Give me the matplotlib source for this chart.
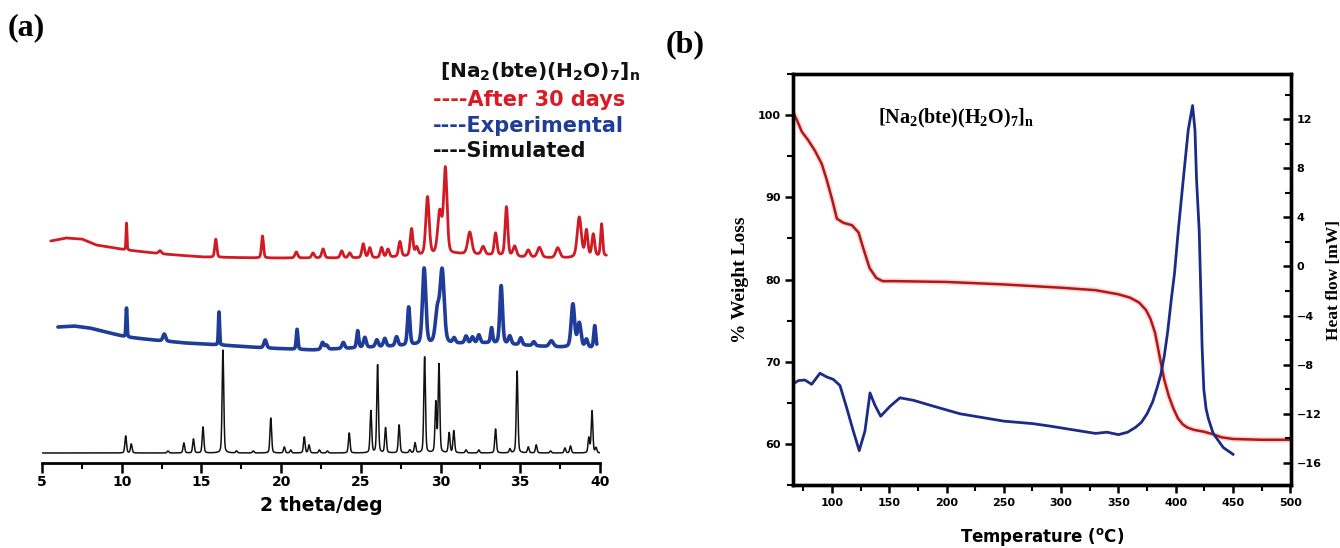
import numpy as np
import matplotlib
matplotlib.use("Agg")
import matplotlib.pyplot as plt
from matplotlib.ticker import MultipleLocator

plt.rcParams['font.family'] = ['DejaVu Sans']
plt.rcParams['mathtext.fontset'] = 'custom'
plt.rcParams['mathtext.rm'] = 'DejaVu Sans:bold'
plt.rcParams['mathtext.bf'] = 'DejaVu Sans:bold'
plt.rcParams['mathtext.sf'] = 'Liberation Serif:bold'

# ---------------- Panel (a): PXRD data ----------------
# Simulated pattern peaks (2theta, height, FWHM)
sim_pos = [10.25, 10.6, 12.9, 13.9, 14.5, 15.1, 16.35, 17.2, 18.25, 19.35, 20.2, 20.6,
           21.45, 21.75, 22.4, 22.9, 24.27, 25.63, 26.05, 26.55, 27.4, 28.07, 28.4, 29.0,
           29.7, 29.9, 30.54, 30.83, 31.6, 32.4, 33.45, 34.35, 34.8, 35.5, 36.0, 36.9,
           37.8, 38.15, 39.3, 39.5, 39.75]
sim_int = [17, 9, 2, 10, 14, 26, 103, 2, 2, 35, 6, 3,
           16, 8, 3, 2, 20, 42, 88, 25, 28, 3, 10, 96,
           50, 88, 20, 22, 3, 3, 24, 4, 82, 6, 8, 2,
           5, 7, 15, 42, 5]
sim_fwhm = 0.12
sim_range = (5.0, 40.0)

# Experimental pattern
exp_pos = [10.3, 12.67, 16.1, 19.0, 21.0, 22.6, 22.85, 23.9, 24.8, 25.25, 26.0, 26.5,
           27.24, 28.0, 28.97, 29.8, 30.1, 30.85, 31.6, 32.0, 32.4, 33.2, 33.8, 34.34,
           35.03, 35.85, 36.95, 38.3, 38.7, 39.15, 39.67]
exp_int = [29, 7, 33, 8, 20, 7, 4, 6, 17, 10, 7, 8,
           9, 38, 76, 32, 72, 5, 7, 6, 8, 15, 58, 8,
           7, 4, 6, 43, 24, 8, 22]
exp_fwhm = [0.08, 0.2, 0.08, 0.2, 0.12, 0.2, 0.2, 0.2, 0.15, 0.2, 0.2, 0.2,
            0.2, 0.18, 0.25, 0.3, 0.3, 0.2, 0.2, 0.2, 0.2, 0.15, 0.2, 0.2,
            0.2, 0.2, 0.3, 0.25, 0.25, 0.2, 0.15]
exp_base_x = [6.0, 7.0, 8.0, 9.0, 10.3, 12.0, 14.0, 16.2, 19.0, 22.0, 26.0, 30.0, 33.0, 35.0, 37.0, 39.8]
exp_base_y = [23, 24, 22, 18, 13, 10, 7, 5, 2, 0, 3, 6, 7, 5, 3, 2]
exp_range = (6.0, 39.8)

# After 30 days pattern
aged_pos = [10.3, 12.4, 15.9, 18.83, 20.95, 22.0, 22.63, 23.8, 24.3, 25.15, 25.56, 26.3,
            26.7, 27.45, 28.18, 28.5, 29.18, 29.95, 30.3, 31.83, 32.67, 33.45, 34.13, 34.65,
            35.5, 36.2, 37.35, 38.7, 39.15, 39.58, 40.1]
aged_int = [27, 3, 18, 22, 6, 5, 9, 7, 5, 14, 10, 10,
            8, 15, 27, 8, 58, 42, 85, 22, 8, 22, 49, 10,
            7, 10, 10, 40, 26, 22, 32]
aged_fwhm = [0.07, 0.2, 0.15, 0.15, 0.2, 0.2, 0.2, 0.2, 0.2, 0.2, 0.2, 0.2,
             0.2, 0.2, 0.2, 0.2, 0.25, 0.3, 0.25, 0.3, 0.25, 0.2, 0.2, 0.25,
             0.25, 0.3, 0.3, 0.3, 0.2, 0.2, 0.15]
aged_base_x = [5.55, 6.5, 7.5, 8.4, 10.3, 12.6, 15.1, 18.8, 23.0, 26.0, 31.0, 33.0, 35.0, 37.0, 38.0, 40.4]
aged_base_y = [17, 20, 19, 13, 8, 4, 1, 0, 0, 0, 4, 3, 1, 0, 0, 2]
aged_range = (5.55, 40.4)

xrd_ticks = [5, 10, 15, 20, 25, 30, 35, 40]

# ---------------- Panel (b): TGA / DSC data ----------------
tga_T = [67, 70, 73.6, 79, 85, 91, 95.5, 100.4, 104.3, 109.9, 117.5, 123.3, 127.1, 132.8,
         138.6, 144.2, 155, 200, 250, 300, 330, 350, 360, 368, 374, 378, 382, 386, 390,
         394, 398, 402, 406, 410, 416, 424, 432, 440, 450, 475, 500]
tga_w = [100.1, 99.2, 98.0, 97.0, 95.7, 94.1, 92.1, 89.6, 87.4, 86.9, 86.6, 85.7, 83.9, 81.4,
         80.2, 79.8, 79.8, 79.7, 79.4, 79.0, 78.7, 78.2, 77.8, 77.2, 76.3, 75.2, 73.5, 70.6, 67.8,
         65.8, 64.3, 63.1, 62.4, 62.0, 61.7, 61.5, 61.2, 60.8, 60.6, 60.5, 60.5]

dsc_T = [65.7, 70.6, 76.4, 82.3, 89.5, 95.4, 101.2, 107, 112.8, 118.6, 123.8, 128.8, 133.2,
         137.5, 142.5, 150.6, 159.3, 171, 185.5, 211.7, 250, 275, 290, 310, 330, 340, 350,
         358, 365, 370, 375, 380, 384, 387, 390, 393, 396, 399, 402.2, 406.5, 410.9, 414.7,
         416.8, 418.2, 420.5, 422, 423, 424.5, 426.5, 428.5, 432.7, 441.5, 450]
dsc_hf = [-9.6, -9.3, -9.25, -9.6, -8.7, -9.0, -9.2, -9.7, -11.5, -13.4, -15.0, -13.4, -10.3,
          -11.3, -12.2, -11.4, -10.7, -10.9, -11.3, -12.0, -12.6, -12.8, -13.0, -13.3, -13.6, -13.5, -13.7,
          -13.5, -13.1, -12.7, -12.0, -11.0, -9.8, -8.8, -7.3, -5.3, -2.8, -0.5, 2.9, 7.0, 11.1, 13.1,
          11.1, 7.0, 2.9, -2.5, -6.5, -10.0, -11.6, -12.4, -13.6, -14.75, -15.3]

tg_ticks = [60, 70, 80, 90, 100]
hf_ticks = [-16, -12, -8, -4, 0, 4, 8, 12]
T_ticks = [100, 150, 200, 250, 300, 350, 400, 450, 500]


def pattern(x, pos, ints, fwhm):
    y = np.zeros_like(x)
    fw = np.broadcast_to(np.asarray(fwhm, dtype=float), (len(pos),))
    for p, h, w in zip(pos, ints, fw):
        u = (x - p) / w
        g = np.exp(-4 * np.log(2) * u ** 2)
        lo = 1.0 / (1.0 + 4 * u ** 2)
        y += h * (0.3 * lo + 0.7 * g)
    return y


W, H = 1340, 548
fig = plt.figure(figsize=(W / 100, H / 100), dpi=100)


def fx(px):
    return px / W


def fy(py):
    return 1 - py / H


SERIF = 'Liberation Serif'

# ---------- panel (a) ----------
axa = fig.add_axes([fx(42), fy(463), fx(600) - fx(42), fy(163) - fy(463)])
off_sim, off_exp, off_aged = 10, 113, 205

x = np.linspace(*sim_range, 6000)
axa.plot(x, off_sim + pattern(x, sim_pos, sim_int, sim_fwhm), color='#111111', lw=1.1)

x = np.linspace(*exp_range, 6000)
yb = np.interp(x, exp_base_x, exp_base_y)
axa.plot(x, off_exp + yb + pattern(x, exp_pos, exp_int, exp_fwhm), color='#1f3c98', lw=2.6,
         solid_capstyle='round')

x = np.linspace(*aged_range, 6000)
yb = np.interp(x, aged_base_x, aged_base_y)
axa.plot(x, off_aged + yb + pattern(x, aged_pos, aged_int, aged_fwhm), color='#d01a24', lw=2.0,
         clip_on=False, solid_capstyle='round')

axa.set_xlim(5, 40)
axa.set_ylim(0, 300)
for s in ['left', 'right', 'top']:
    axa.spines[s].set_visible(False)
axa.spines['bottom'].set_linewidth(2.0)
axa.set_yticks([])
axa.set_xticks(xrd_ticks)
axa.xaxis.set_minor_locator(MultipleLocator(2.5))
axa.tick_params(axis='x', which='major', direction='out', length=7, width=1.8, labelsize=10, pad=2)
axa.tick_params(axis='x', which='minor', direction='out', length=4, width=1.5)
for lab in axa.get_xticklabels():
    lab.set_fontweight('bold')
axa.set_xlabel('2 theta/deg', fontsize=13.5, fontweight='bold', labelpad=5)
axa.patch.set_alpha(0)

fig.text(fx(8), fy(28), '(a)', fontsize=23, fontweight='bold', family=SERIF, va='center')
fig.text(fx(440), fy(72), r'[Na$_\mathbf{2}$(bte)(H$_\mathbf{2}$O)$_\mathbf{7}$]$_\mathbf{n}$',
         fontsize=14.5, fontweight='bold', va='center', color='#111111')
fig.text(fx(433), fy(100), '----After 30 days', fontsize=15, fontweight='bold', color='#d81c26', va='center')
fig.text(fx(433), fy(126), '----Experimental', fontsize=15, fontweight='bold', color='#1f3c98', va='center')
fig.text(fx(433), fy(151), '----Simulated', fontsize=15, fontweight='bold', color='#111111', va='center')

# ---------- panel (b) ----------
axb = fig.add_axes([fx(793), fy(485), fx(1291) - fx(793), fy(74) - fy(485)])
axb.plot(tga_T, tga_w, color='#ff9090', lw=4.0, alpha=0.35, solid_capstyle='round')
axb.plot(tga_T, tga_w, color='#b01818', lw=1.8)
axb.set_xlim(66, 500.6)
axb.set_ylim(55, 105)
axb.set_yticks(tg_ticks)
axb.yaxis.set_minor_locator(MultipleLocator(5))
axb.set_xticks(T_ticks)
axb.xaxis.set_minor_locator(MultipleLocator(25))
for s in axb.spines.values():
    s.set_linewidth(2.4)
axb.tick_params(axis='both', which='major', direction='out', length=6, width=1.8, labelsize=8, pad=3)
axb.tick_params(axis='both', which='minor', direction='out', length=4, width=1.5)
for lab in axb.get_xticklabels() + axb.get_yticklabels():
    lab.set_fontweight('bold')
axb.set_ylabel('% Weight Loss', family=SERIF, fontsize=14, fontweight='bold', labelpad=6)
axb.set_xlabel('Temperature ($^\\mathregular{o}$C)', fontsize=12, fontweight='bold', labelpad=13)

axr = axb.twinx()
axr.plot(dsc_T, dsc_hf, color='#1c2c86', lw=2.0)
axr.set_ylim(-17.8, 15.67)
axr.set_yticks(hf_ticks)
axr.yaxis.set_minor_locator(MultipleLocator(2))
axr.tick_params(axis='y', which='major', direction='in', length=6, width=1.8, labelsize=8, pad=4)
axr.tick_params(axis='y', which='minor', direction='in', length=4, width=1.5)
for lab in axr.get_yticklabels():
    lab.set_fontweight('bold')
for s in axr.spines.values():
    s.set_linewidth(2.4)
axr.set_ylabel('Heat flow [mW]', family=SERIF, fontsize=12.5, fontweight='bold')
axr.yaxis.set_label_coords((1326 - 793) / (1291 - 793), 0.5)

axb.text(fx(878), fy(118), r'[Na$_\mathsf{2}$(bte)(H$_\mathsf{2}$O)$_\mathsf{7}$]$_\mathsf{n}$',
         transform=fig.transFigure, family=SERIF, fontsize=14.5, fontweight='bold', va='center')

fig.text(fx(666), fy(45), '(b)', fontsize=23, fontweight='bold', family=SERIF, va='center')

fig.savefig('out.png', dpi=100)
